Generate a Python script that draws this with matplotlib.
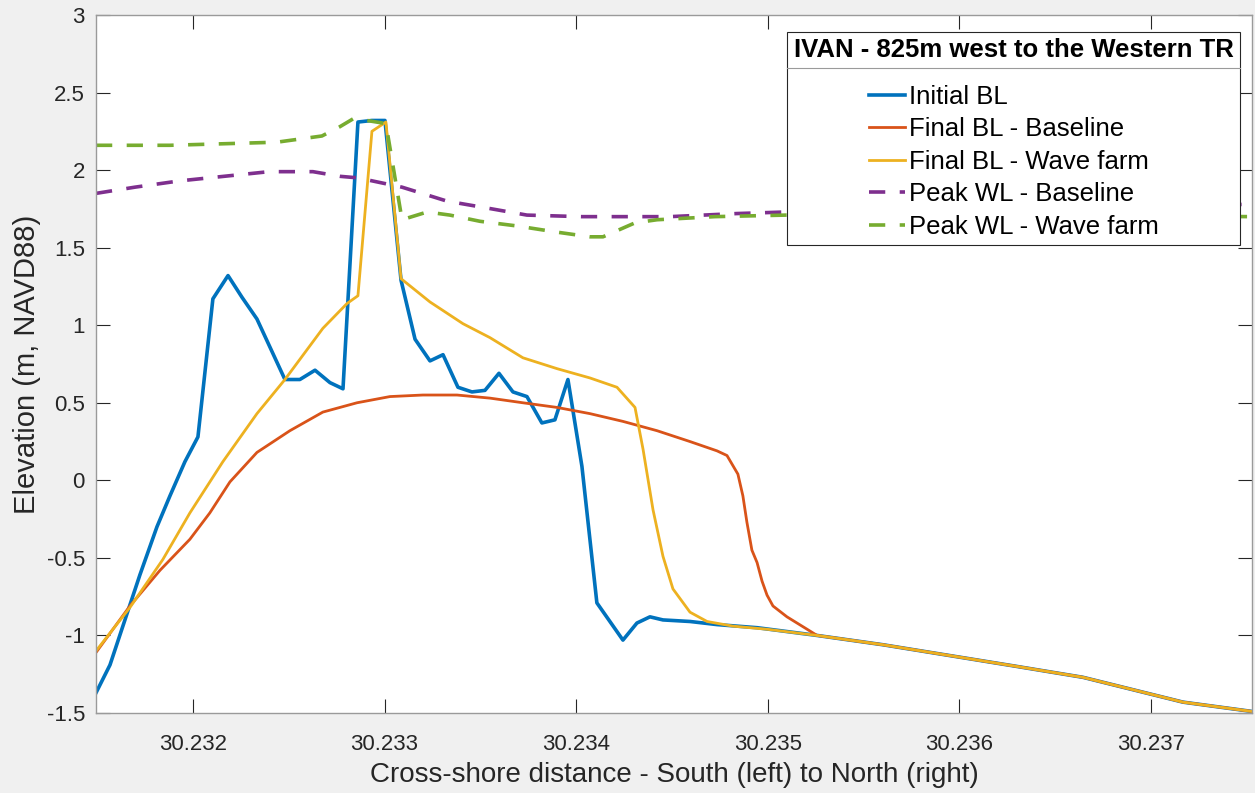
import matplotlib
matplotlib.use("Agg")
import matplotlib.pyplot as plt
from matplotlib.lines import Line2D

plt.rcParams['font.family'] = ['Liberation Sans', 'DejaVu Sans']

# common offshore tail shared by all bed levels
tail_x = [30.235257, 30.235601, 30.235951, 30.236301, 30.236645, 30.236906, 30.237167, 30.237527]
tail_y = [-1.00, -1.06, -1.13, -1.20, -1.27, -1.35, -1.43, -1.49]

# Initial BL
init_x = [30.231494, 30.231567, 30.231723, 30.231812, 30.231880, 30.231958, 30.232026, 30.232104,
          30.232183, 30.232256, 30.232334, 30.232480, 30.232558, 30.232637, 30.232715, 30.232783,
          30.232861, 30.232934, 30.233002, 30.233086, 30.233159, 30.233237, 30.233305, 30.233383,
          30.233456, 30.233524, 30.233597, 30.233670, 30.233743, 30.233821, 30.233889, 30.233957,
          30.234030, 30.234108, 30.234244, 30.234317, 30.234385, 30.234453, 30.234594, 30.234735,
          30.234944]
init_y = [-1.37, -1.19, -0.61, -0.30, -0.10, 0.12, 0.28, 1.17,
          1.32, 1.18, 1.04, 0.65, 0.65, 0.71, 0.63, 0.59,
          2.31, 2.32, 2.32, 1.29, 0.91, 0.77, 0.81, 0.60,
          0.57, 0.58, 0.69, 0.57, 0.54, 0.37, 0.39, 0.65,
          0.09, -0.79, -1.03, -0.92, -0.88, -0.90, -0.91, -0.93,
          -0.95]

# Final BL - Baseline
base_x = [30.231494, 30.231671, 30.231828, 30.231984, 30.232088, 30.232193, 30.232334, 30.232506,
          30.232678, 30.232856, 30.233028, 30.233200, 30.233378, 30.233550, 30.233722, 30.233900,
          30.234072, 30.234244, 30.234422, 30.234594, 30.234735, 30.234787, 30.234844, 30.234870,
          30.234891, 30.234917, 30.234944, 30.234970, 30.234996, 30.235027, 30.235100, 30.235205]
base_y = [-1.11, -0.81, -0.58, -0.38, -0.21, -0.01, 0.18, 0.32,
          0.44, 0.50, 0.54, 0.55, 0.55, 0.53, 0.50, 0.47,
          0.43, 0.38, 0.32, 0.25, 0.19, 0.16, 0.04, -0.10,
          -0.27, -0.45, -0.53, -0.65, -0.74, -0.81, -0.88, -0.96]

# Final BL - Wave farm
farm_x = [30.231494, 30.231671, 30.231843, 30.231984, 30.232156, 30.232334, 30.232480, 30.232678,
          30.232804, 30.232861, 30.232934, 30.233007, 30.233086, 30.233237, 30.233409, 30.233550,
          30.233722, 30.233900, 30.234072, 30.234213, 30.234307, 30.234349, 30.234401, 30.234453,
          30.234505, 30.234594, 30.234683, 30.234818, 30.234996]
farm_y = [-1.10, -0.82, -0.51, -0.21, 0.12, 0.43, 0.65, 0.98,
          1.14, 1.19, 2.25, 2.31, 1.30, 1.15, 1.01, 0.92,
          0.79, 0.72, 0.66, 0.60, 0.47, 0.20, -0.19, -0.49,
          -0.70, -0.85, -0.91, -0.94, -0.96]

# Peak WL - Baseline
wl_base_x = [30.231494, 30.231697, 30.231927, 30.232162, 30.232397, 30.232626, 30.232767, 30.232861,
             30.233091, 30.233326, 30.233560, 30.233743, 30.234025, 30.234260, 30.234489, 30.234839,
             30.235095, 30.236212, 30.237527]
wl_base_y = [1.85, 1.89, 1.93, 1.96, 1.99, 1.99, 1.96, 1.95,
             1.89, 1.80, 1.75, 1.71, 1.70, 1.70, 1.70, 1.72,
             1.73, 1.75, 1.78]

# Peak WL - Wave farm
wl_farm_x = [30.231494, 30.231880, 30.232162, 30.232438, 30.232673, 30.232767, 30.232835, 30.232908,
             30.233007, 30.233091, 30.233222, 30.233341, 30.233498, 30.233691, 30.233900, 30.234072,
             30.234140, 30.234307, 30.234422, 30.234724, 30.235095, 30.236212, 30.237527]
wl_farm_y = [2.16, 2.16, 2.17, 2.18, 2.22, 2.28, 2.33, 2.32,
             2.30, 1.68, 1.73, 1.71, 1.67, 1.64, 1.60, 1.57,
             1.57, 1.66, 1.68, 1.70, 1.71, 1.71, 1.70]

xticks = [30.232, 30.233, 30.234, 30.235, 30.236, 30.237]
yticks = [-1.5, -1, -0.5, 0, 0.5, 1, 1.5, 2, 2.5, 3]

fig = plt.figure(figsize=(12.55, 7.93), dpi=100, facecolor='#f0f0f0')
ax = fig.add_axes([96/1255, 1-713/793, (1252-96)/1255, (713-15)/793])

ax.plot(init_x + tail_x, init_y + tail_y, color='#0072BD', lw=2.6, label='Initial BL')
ax.plot(base_x + tail_x, base_y + tail_y, color='#D95319', lw=2.0, label='Final BL - Baseline')
ax.plot(farm_x + tail_x, farm_y + tail_y, color='#EDB120', lw=2.0, label='Final BL - Wave farm')
ax.plot(wl_base_x, wl_base_y, color='#7E2F8E', lw=2.6, dashes=(4.5, 4), label='Peak WL - Baseline')
ax.plot(wl_farm_x, wl_farm_y, color='#77AC30', lw=2.6, dashes=(4.5, 4), label='Peak WL - Wave farm')

ax.set_xlim(30.231494, 30.237527)
ax.set_ylim(-1.5, 3)
ax.set_xticks(xticks)
ax.set_xticklabels(['%.3f' % t for t in xticks])
ax.set_yticks(yticks)
ax.set_yticklabels(['%g' % t for t in yticks])
ax.tick_params(direction='in', length=10, width=0.8, color='#262626', labelsize=16,
               labelcolor='#262626', top=True, right=True)
ax.tick_params(axis='x', pad=15)
ax.tick_params(axis='y', pad=8)
for s in ax.spines.values():
    s.set_color('#9a9a9a')
    s.set_linewidth(1.0)

ax.set_xlabel('Cross-shore distance - South (left) to North (right)', fontsize=20, color='#262626', labelpad=5)
ax.set_ylabel('Elevation (m, NAVD88)', fontsize=21, color='#262626', labelpad=4)

leg = ax.legend(loc='upper right', bbox_to_anchor=(1240/1255, 1-32/793), bbox_transform=fig.transFigure,
                borderaxespad=0, fontsize=18.5, title='IVAN - 825m west to the Western TR',
                title_fontproperties={'weight': 'bold', 'size': 18.5}, alignment='center',
                handlelength=1.4, handletextpad=0.15, labelspacing=0.33, borderpad=0.25,
                fancybox=False, framealpha=1, edgecolor='#262626')
leg.get_frame().set_linewidth(0.8)
leg.set_zorder(20)
# extra room between the title row and the entries
leg._legend_box.sep = 16

# separator under the legend title
fig.canvas.draw()
fb = leg.get_frame().get_window_extent()
tb = leg.get_title().get_window_extent()
yline = tb.y0 - 6
fig.add_artist(Line2D([fb.x0 / fig.bbox.width, fb.x1 / fig.bbox.width],
                      [yline / fig.bbox.height, yline / fig.bbox.height],
                      transform=fig.transFigure, color='#9a9a9a', lw=0.8, zorder=30))

fig.savefig('out.png', dpi=100, facecolor=fig.get_facecolor())
